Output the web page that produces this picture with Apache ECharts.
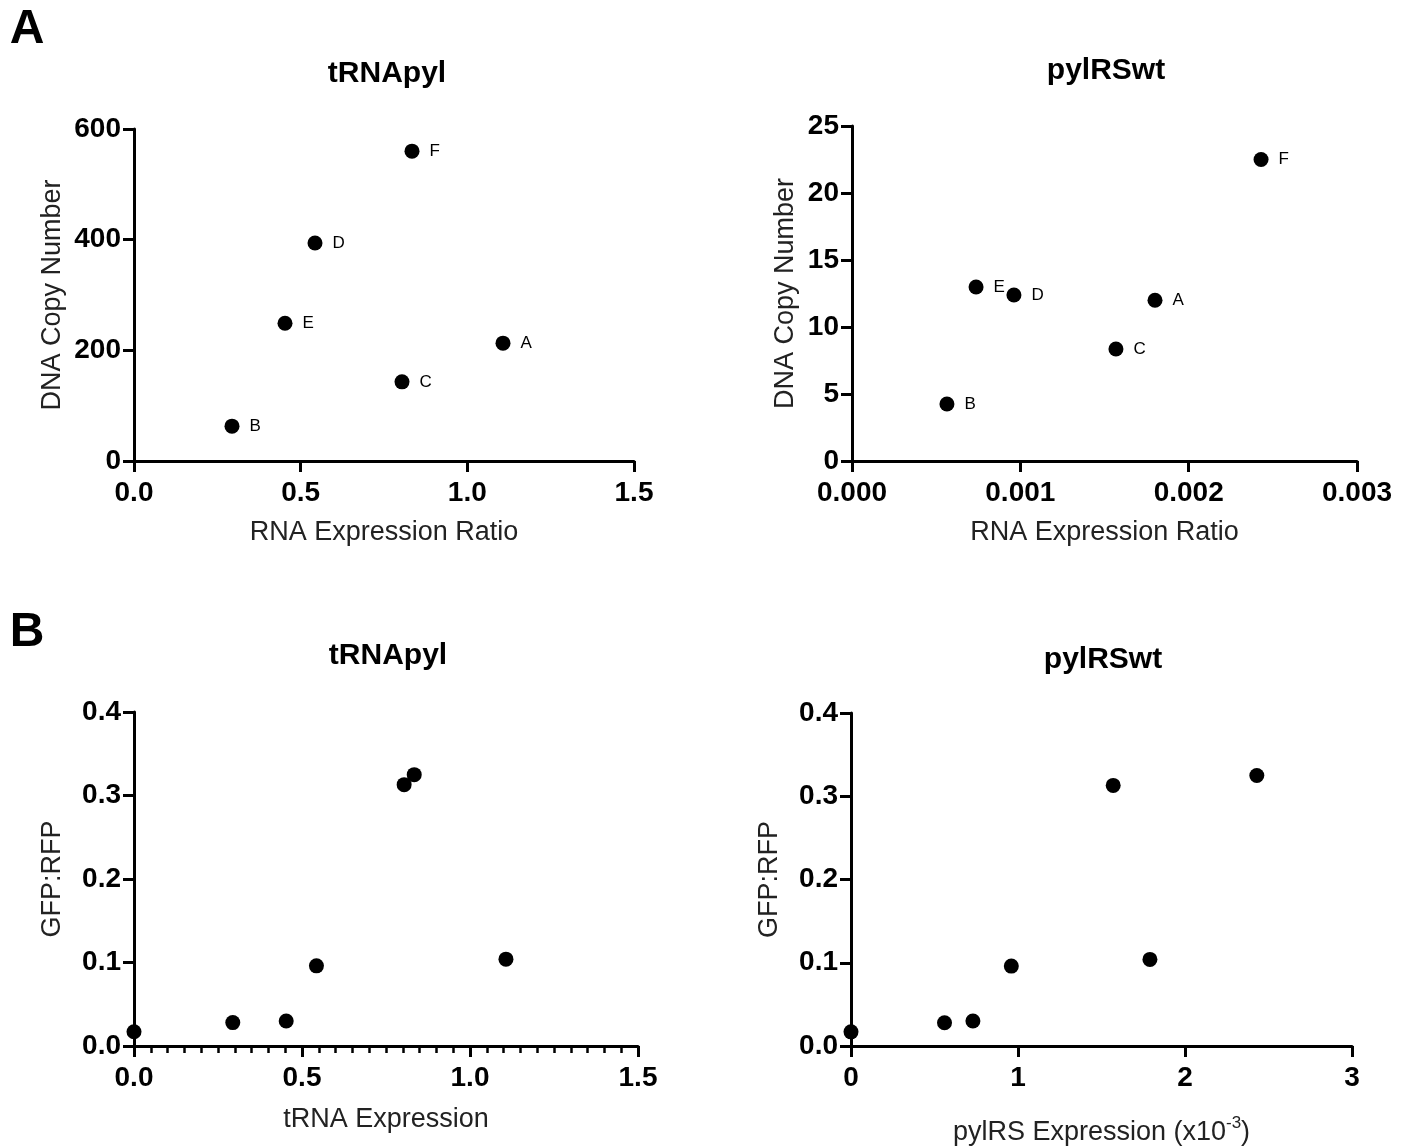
<!DOCTYPE html>
<html>
<head>
<meta charset="utf-8">
<script src="https://cdn.jsdelivr.net/npm/echarts@6/dist/echarts.min.js"></script>
<style>html,body{margin:0;padding:0;background:#fff}#c{width:1410px;height:1147px}</style>
</head>
<body>
<div id="c"></div>
<script>
// ---- Data ----
const sampleNames = ['A', 'B', 'C', 'D', 'E', 'F'];
// Panel A, tRNApyl: RNA expression ratio vs DNA copy number
const trnaRatio = [1.107, 0.294, 0.804, 0.543, 0.453, 0.834];
const trnaCopy = [213, 63, 143, 394, 249, 560];
// Panel A, pylRSwt
const pylrsRatio = [0.00180, 0.000564, 0.001568, 0.000962, 0.000737, 0.00243];
const pylrsCopy = [12.0, 4.25, 8.36, 12.39, 12.99, 22.5];
// Panel B, tRNApyl: tRNA expression vs GFP:RFP
const bTrnaX = [0, 0.294, 0.453, 0.543, 0.804, 0.834, 1.107];
const bTrnaY = [0.017, 0.028, 0.030, 0.096, 0.313, 0.325, 0.104];
// Panel B, pylRSwt: pylRS expression (x10^-3) vs GFP:RFP
const bPylX = [0, 0.56, 0.73, 0.96, 1.57, 1.79, 2.43];
const bPylY = [0.017, 0.028, 0.030, 0.096, 0.313, 0.104, 0.325];

const FONT = '"Liberation Sans", Arial, Helvetica, sans-serif';
const chart = echarts.init(document.getElementById('c'));

function xAxis(idx, min, max, interval, name, fmt, gap, minor, rich) {
  const a = {
    gridIndex: idx, type: 'value', min: min, max: max, interval: interval,
    name: name, nameLocation: 'middle', nameGap: gap,
    nameTextStyle: { fontFamily: FONT, fontSize: 27, color: '#222' },
    axisLine: { show: true, onZero: false, lineStyle: { color: '#000', width: 3 } },
    axisTick: { show: true, inside: false, length: 11, lineStyle: { color: '#000', width: 3 } },
    axisLabel: { fontFamily: FONT, fontSize: 28, fontWeight: 'bold', color: '#000', margin: 18, formatter: fmt },
    splitLine: { show: false }
  };
  if (rich) a.nameTextStyle.rich = rich;
  if (minor) {
    a.minorTick = { show: true, splitNumber: 10, length: 7, lineStyle: { color: '#000', width: 2.5 } };
  }
  return a;
}
function yAxis(idx, min, max, interval, name, fmt, gap) {
  return {
    gridIndex: idx, type: 'value', min: min, max: max, interval: interval,
    name: name, nameLocation: 'middle', nameGap: gap,
    nameTextStyle: { fontFamily: FONT, fontSize: 27, color: '#222' },
    axisLine: { show: true, onZero: false, lineStyle: { color: '#000', width: 3 } },
    axisTick: { show: true, inside: false, length: 11, lineStyle: { color: '#000', width: 3 } },
    axisLabel: { fontFamily: FONT, fontSize: 28, fontWeight: 'bold', color: '#000', margin: 13, formatter: fmt },
    splitLine: { show: false }
  };
}
function pts(xs, ys, names) {
  return xs.map((x, i) => names ? { value: [x, ys[i]], name: names[i] } : [x, ys[i]]);
}
function series(idx, data, labels) {
  return {
    type: 'scatter', xAxisIndex: idx, yAxisIndex: idx, data: data, clip: false,
    symbol: 'circle', symbolSize: 15, itemStyle: { color: '#000', opacity: 1 },
    label: labels ? { show: true, position: 'right', distance: 10, formatter: '{b}',
      fontFamily: FONT, fontSize: 17, color: '#000' } : { show: false }
  };
}

const option = {
  animation: false,
  backgroundColor: '#fff',
  grid: [
    { left: 134, top: 129, width: 500, height: 332 },
    { left: 852, top: 126, width: 505, height: 335 },
    { left: 134, top: 712, width: 504, height: 334 },
    { left: 851, top: 713, width: 501, height: 333 }
  ],
  xAxis: [
    xAxis(0, 0, 1.5, 0.5, 'RNA Expression Ratio', v => v.toFixed(1), 58),
    xAxis(1, 0, 0.003, 0.001, 'RNA Expression Ratio', v => v.toFixed(3), 58),
    xAxis(2, 0, 1.5, 0.5, 'tRNA Expression', v => v.toFixed(1), 60, true),
    xAxis(3, 0, 3, 1, '{n|pylRS Expression (x10}{sup|-3}{n|)}', v => v.toFixed(0), 68, false,
      { n: { fontFamily: FONT, fontSize: 27, color: '#222', lineHeight: 32, verticalAlign: 'bottom' },
        sup: { fontFamily: FONT, fontSize: 17, color: '#222', lineHeight: 18, verticalAlign: 'bottom', padding: [0, 0, 14, 0] } })
  ],
  yAxis: [
    yAxis(0, 0, 600, 200, 'DNA Copy Number', v => v.toFixed(0), 68),
    yAxis(1, 0, 25, 5, 'DNA Copy Number', v => v.toFixed(0), 53),
    yAxis(2, 0, 0.4, 0.1, 'GFP:RFP', v => v.toFixed(1), 68),
    yAxis(3, 0, 0.4, 0.1, 'GFP:RFP', v => v.toFixed(1), 68)
  ],
  series: [
    series(0, pts(trnaRatio, trnaCopy, sampleNames), true),
    series(1, pts(pylrsRatio, pylrsCopy, sampleNames), true),
    series(2, pts(bTrnaX, bTrnaY), false),
    series(3, pts(bPylX, bPylY), false)
  ],
  graphic: [
    { type: 'text', x: 27, y: 30, style: { text: 'A', fontFamily: FONT, fontSize: 48, fontWeight: 'bold', fill: '#000', textAlign: 'center', textVerticalAlign: 'middle' } },
    { type: 'text', x: 27, y: 633, style: { text: 'B', fontFamily: FONT, fontSize: 48, fontWeight: 'bold', fill: '#000', textAlign: 'center', textVerticalAlign: 'middle' } },
    { type: 'text', x: 387, y: 74, style: { text: 'tRNApyl', fontFamily: FONT, fontSize: 30, fontWeight: 'bold', fill: '#000', textAlign: 'center', textVerticalAlign: 'middle' } },
    { type: 'text', x: 1106, y: 71, style: { text: 'pylRSwt', fontFamily: FONT, fontSize: 30, fontWeight: 'bold', fill: '#000', textAlign: 'center', textVerticalAlign: 'middle' } },
    { type: 'text', x: 388, y: 656, style: { text: 'tRNApyl', fontFamily: FONT, fontSize: 30, fontWeight: 'bold', fill: '#000', textAlign: 'center', textVerticalAlign: 'middle' } },
    { type: 'text', x: 1103, y: 660, style: { text: 'pylRSwt', fontFamily: FONT, fontSize: 30, fontWeight: 'bold', fill: '#000', textAlign: 'center', textVerticalAlign: 'middle' } }
  ]
};
chart.setOption(option);
</script>
</body>
</html>
